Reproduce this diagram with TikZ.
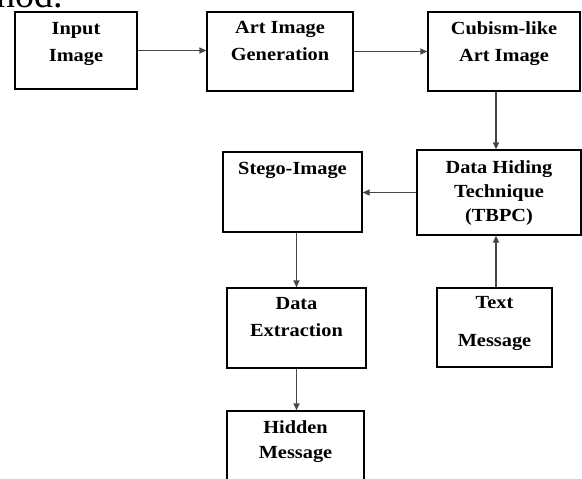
\documentclass[tikz,border=0pt]{standalone}
\usepackage{fontspec}
\setmainfont{Liberation Serif}
\newfontfamily\boxfont{Liberation Serif}[FakeStretch=1.1]
\usetikzlibrary{arrows.meta}

\begin{document}
\begin{tikzpicture}[x=1pt,y=-1pt,
  box/.style={draw=black, line width=1.2pt, inner sep=0pt},
  lbl/.style={font=\boxfont\bfseries\fontsize{18.5}{27}\selectfont,
              align=center, inner sep=0pt, anchor=north},
  flow/.style={draw=black!72, line width=1.2pt,
               -{Triangle[length=7pt,width=6pt]}}]
\useasboundingbox (0,0) rectangle (582,479);

% tail of the sentence above the figure
\node[font=\fontsize{38}{40}\selectfont, anchor=base east, inner sep=0pt]
  (cap) at (63,7) {method.};

% process boxes
\node[box, minimum width=122, minimum height=77] (in)   at (76,50.5)   {};
\node[box, minimum width=146, minimum height=79] (art)  at (280,51.5)  {};
\node[box, minimum width=152, minimum height=79] (cub)  at (504,51.5)  {};
\node[box, minimum width=164, minimum height=85] (hide) at (499,192.5) {};
\node[box, minimum width=139, minimum height=80] (steg) at (292.5,192) {};
\node[box, minimum width=139, minimum height=80] (ext)  at (296.5,328) {};
\node[box, minimum width=115, minimum height=79] (txt)  at (494.5,327.5) {};
\node[box, minimum width=137, minimum height=90] (hid)  at (295.5,456) {};

% box titles
\node[lbl] (inL)   at (76,22.5)    {Input\\Image};
\node[lbl] (artL)  at (280,21.5)   {Art Image\\Generation};
\node[lbl] (cubL)  at (504,21.5)   {Cubism-like\\Art Image};
\node[lbl, font=\boxfont\bfseries\fontsize{18.5}{24}\selectfont]
           (hideL) at (499,160.5)  {Data Hiding\\Technique\\(TBPC)};
\node[lbl] (stegL) at (292.5,162.5) {Stego-Image};
\node[lbl] (extL)  at (296.5,297.5) {Data\\Extraction};
\node[lbl, font=\boxfont\bfseries\fontsize{18.5}{38}\selectfont]
           (txtL)  at (494.5,296.5) {Text\\Message};
\node[lbl, font=\boxfont\bfseries\fontsize{18.5}{25}\selectfont]
           (hidL)  at (295.5,420.5) {Hidden\\Message};

% connectors
\draw[flow] (in.east) -- (in.east -| art.west);
\draw[flow] (art.east) -- (art.east -| cub.west);
\draw[flow] ([xshift=-8pt]cub.south) -- ([xshift=-8pt]cub.south |- hide.north);
\draw[flow] (hide.west) -- (hide.west -| steg.east);
\draw[flow] ([xshift=4pt]steg.south) -- ([xshift=4pt]steg.south |- ext.north);
\draw[flow] (ext.south) -- (ext.south |- hid.north);
\draw[flow] ([xshift=1.5pt]txt.north) -- ([xshift=1.5pt]txt.north |- hide.south);
\end{tikzpicture}
\end{document}
